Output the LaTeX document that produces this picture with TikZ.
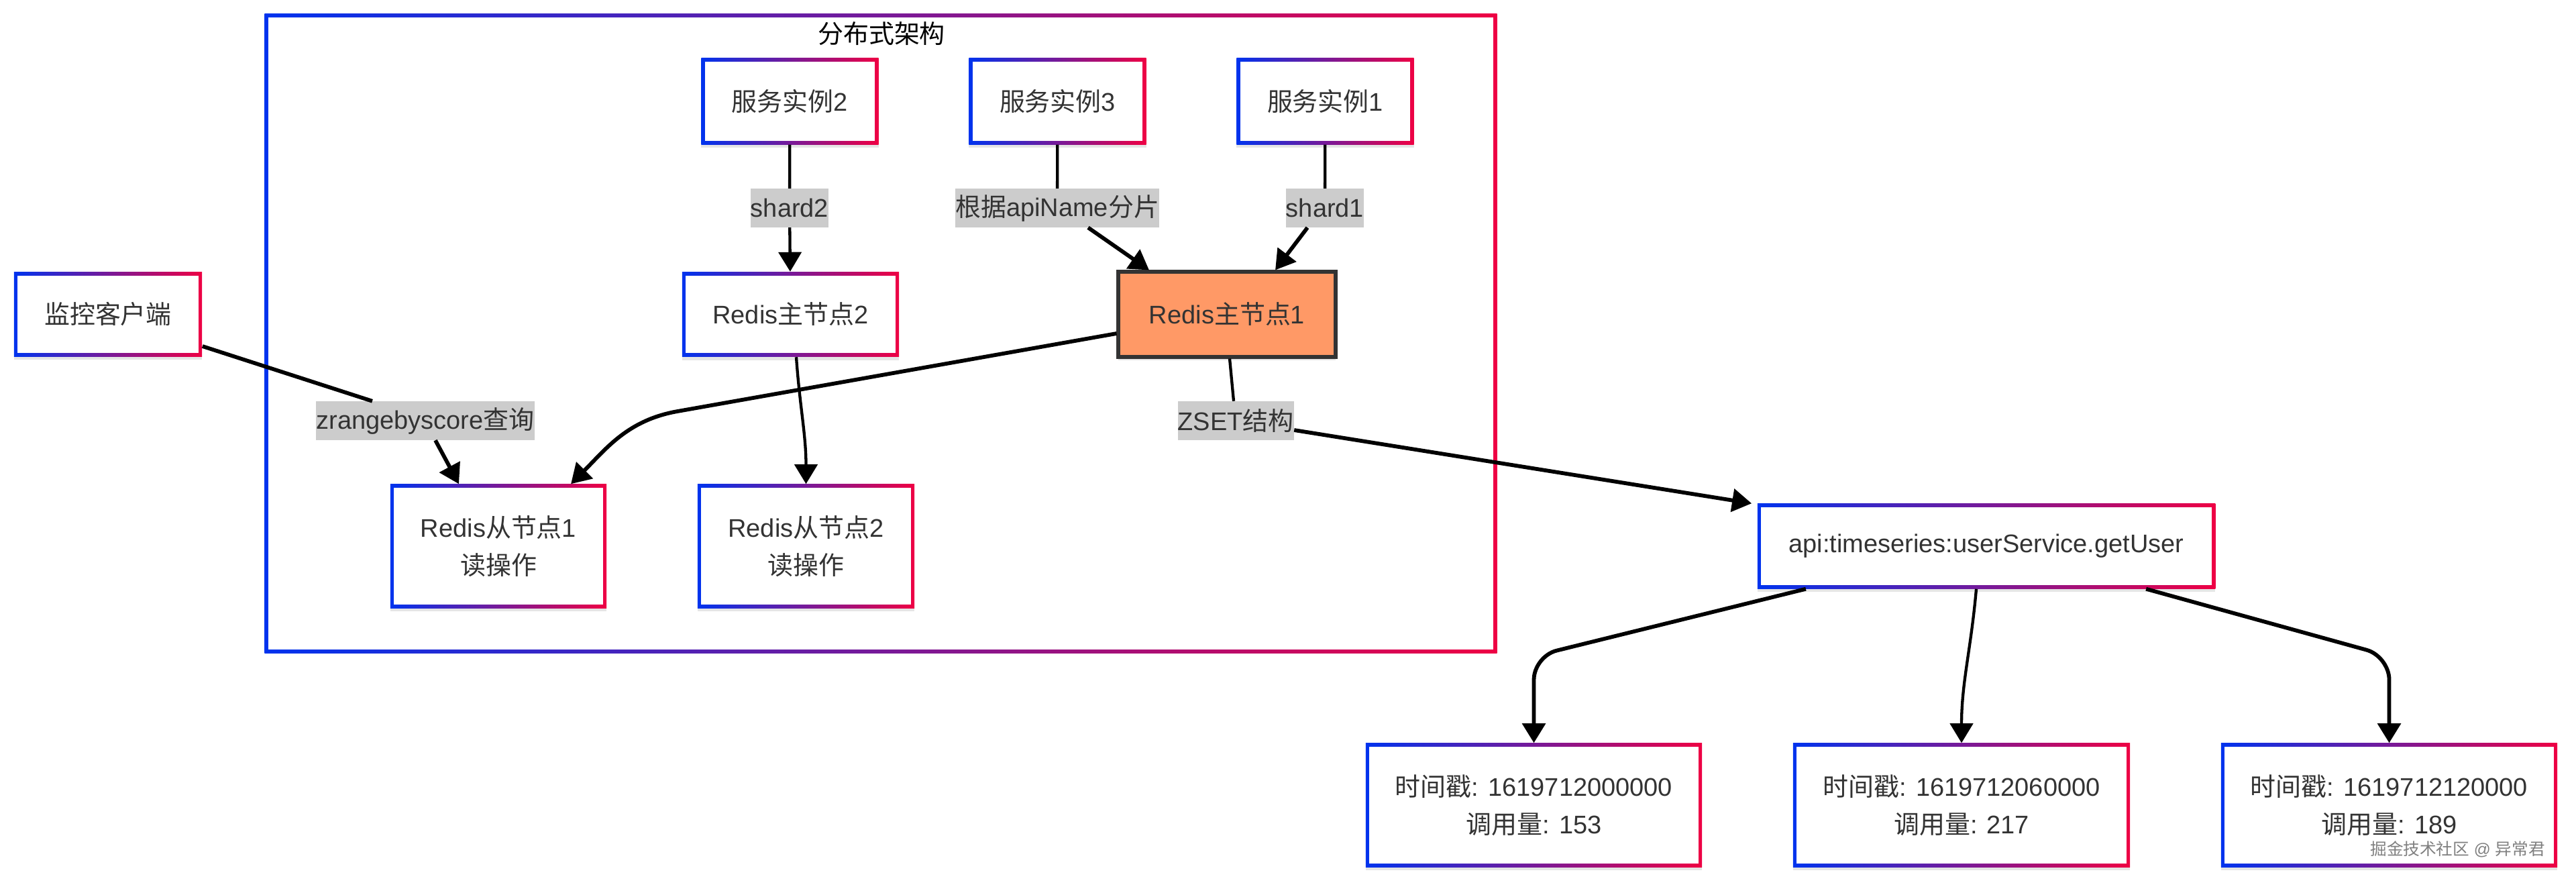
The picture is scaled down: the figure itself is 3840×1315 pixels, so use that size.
\documentclass[tikz,border=0pt]{standalone}
\usepackage{fontspec}
\setmainfont{Liberation Sans}
\newfontfamily\cjk{Noto Sans CJK SC}
\usetikzlibrary{arrows.meta,shadows}
\definecolor{gblue}{RGB}{0,51,238}
\definecolor{gred}{RGB}{238,0,68}
\definecolor{txt}{RGB}{51,51,51}
\definecolor{lblgray}{RGB}{204,204,204}
\definecolor{orangefill}{RGB}{255,153,102}
\definecolor{darkborder}{RGB}{51,51,51}
\newcommand\myfs{\fontsize{10.8pt}{15.9pt}\selectfont}
\tikzset{
  gbox/.style={inner sep=0pt, align=center, text=txt, font=\myfs,
    path picture={
      \shade[left color=gblue,right color=gred] (path picture bounding box.south west) rectangle (path picture bounding box.north east);
      \fill[white] ([shift={(0.052cm,0.052cm)}]path picture bounding box.south west) rectangle ([shift={(-0.052cm,-0.052cm)}]path picture bounding box.north east);
    }},
  shad/.style={drop shadow={shadow xshift=0cm, shadow yshift=-0.05cm, opacity=0.10, fill=black}},
  lbl/.style={fill=lblgray, text=txt, font=\myfs, inner xsep=0pt, inner ysep=0pt, minimum height=0.57cm},
  conn/.style={draw=black, line width=0.043cm},
  connb/.style={draw=black, line width=0.058cm},
  arr/.style={-{Triangle[length=0.29cm,width=0.34cm]}}
}
\begin{document}
\begin{tikzpicture}[x=0.01cm,y=-0.01cm]
\useasboundingbox (0,0) rectangle (3840,1315);
% cluster
\node[gbox, minimum width=18.36cm, minimum height=9.52cm] (cluster) at (1313,497) {};
\node[font=\myfs, text=black] (title) at (1314,50) {\cjk 分布式架构};
% nodes
\node[gbox,shad,minimum width=2.80cm,minimum height=1.25cm] (client) at (161,468.5) {{\cjk 监控客户端}};
\node[gbox,shad,minimum width=2.64cm,minimum height=1.28cm] (svc2) at (1177.5,151) {{\cjk 服务实例}2};
\node[gbox,shad,minimum width=2.64cm,minimum height=1.28cm] (svc3) at (1576.5,151) {{\cjk 服务实例}3};
\node[gbox,shad,minimum width=2.64cm,minimum height=1.28cm] (svc1) at (1975.5,151) {{\cjk 服务实例}1};
\node[gbox,shad,minimum width=3.23cm,minimum height=1.26cm] (m2) at (1178.5,468.5) {Redis{\cjk 主节点}2};
\node[draw=darkborder, line width=0.06cm, fill=orangefill, minimum width=3.23cm, minimum height=1.26cm, inner sep=0pt, text=txt, font=\myfs, shad] (m1) at (1829,468.5) {Redis{\cjk 主节点}1};
\node[gbox,shad,minimum width=3.22cm,minimum height=1.84cm] (s1) at (743,814) {Redis{\cjk 从节点}1\\{\cjk 读操作}};
\node[gbox,shad,minimum width=3.23cm,minimum height=1.84cm] (s2) at (1201.5,814) {Redis{\cjk 从节点}2\\{\cjk 读操作}};
\node[gbox,shad,minimum width=6.82cm,minimum height=1.26cm] (api) at (2961,814) {api:timeseries:userService.getUser};
\node[gbox,shad,minimum width=5.01cm,minimum height=1.84cm] (b1) at (2286.5,1200) {{\cjk 时间戳}: 1619712000000\\{\cjk 调用量}: 153};
\node[gbox,shad,minimum width=5.02cm,minimum height=1.84cm] (b2) at (2924,1200) {{\cjk 时间戳}: 1619712060000\\{\cjk 调用量}: 217};
\node[gbox,shad,minimum width=5.01cm,minimum height=1.84cm] (b3) at (3561.5,1200) {{\cjk 时间戳}: 1619712120000\\{\cjk 调用量}: 189};
% labels
\node[lbl] (lshard2) at (1177,310) {shard2};
\node[lbl] (lapi) at (1576,310) {{\cjk 根据}apiName{\cjk 分片}};
\node[lbl] (lshard1) at (1975,310) {shard1};
\node[lbl] (lz) at (634,627) {zrangebyscore{\cjk 查询}};
\node[lbl] (lzset) at (1842,627) {ZSET{\cjk 结构}};
% edges
\draw[conn] (svc2) -- (lshard2);
\draw[conn,arr] (lshard2) -- (m2);
\draw[conn] (svc3) -- (lapi);
\draw[connb,arr] ([xshift=0.46cm]lapi.south) -- ([xshift=-1.16cm]m1.north);
\draw[conn] (svc1) -- (lshard1);
\draw[connb,arr] ([xshift=-0.26cm]lshard1.south) -- ([xshift=0.72cm]m1.north);
\draw[connb] ([yshift=-0.475cm]client.east) -- ([xshift=-0.79cm]lz.north);
\draw[connb,arr] ([xshift=0.15cm]lz.south) -- ([xshift=-0.59cm]s1.north);
\draw[connb,arr] ([yshift=-0.285cm]m1.west) -- (1010,613) to[out=190,in=45] ([xshift=1.08cm]s1.north);
\draw[conn,arr] ([xshift=0.085cm]m2.south) to[out=-86,in=90] (s2.north);
\draw[conn] ([xshift=0.04cm]m1.south) -- ([xshift=-0.03cm]lzset.north);
\draw[connb,arr] ([yshift=-0.14cm]lzset.east) -- ([xshift=-0.08cm]api.north west);
\draw[connb,arr,rounded corners=0.35cm] ([xshift=-2.69cm]api.south) -- (2286.5,978) -- (b1.north);
\draw[conn,arr] ([xshift=-0.15cm]api.south) to[out=265,in=90] (b2.north);
\draw[connb,arr,rounded corners=0.35cm] ([xshift=2.38cm]api.south) -- (3561.5,978) -- (b3.north);
% watermark
\node[anchor=east, font=\fontsize{7.0pt}{9pt}\selectfont, text=gray] (wm) at (3806,1266) {{\cjk 掘金技术社区} @ {\cjk 异常君}};
\end{tikzpicture}
\end{document}
